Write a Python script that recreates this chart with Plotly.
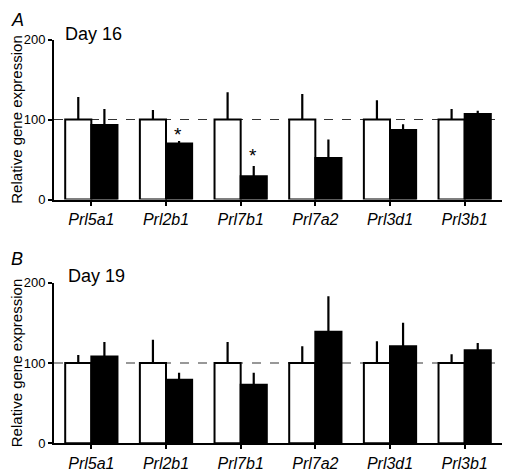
import plotly.graph_objects as go

genes = ["Prl5a1", "Prl2b1", "Prl7b1", "Prl7a2", "Prl3d1", "Prl3b1"]

d16_ctrl = [100, 100, 100, 100, 100, 100]
d16_ctrl_err = [28, 12, 34, 32, 24, 13]
d16_trt = [93, 70, 29, 52, 87, 107]
d16_trt_err = [20, 3, 13, 23, 7, 4]

d19_ctrl = [100, 100, 100, 100, 100, 100]
d19_ctrl_err = [10, 29, 26, 21, 27, 11]
d19_trt = [108, 79, 73, 139, 121, 116]
d19_trt_err = [18, 9, 15, 44, 29, 9]

stars_x = ["Prl2b1", "Prl7b1"]

FONT = "Liberation Sans, Arial, sans-serif"
W, H, OFF = 512, 462, 8

def px(X):
    return (X - OFF) / W

def py(Y):
    return 1 - (Y - OFF) / H

fig = go.Figure()

def add_panel(ctrl, ctrl_err, trt, trt_err, xa, ya):
    fig.add_trace(go.Bar(
        x=genes, y=ctrl, xaxis=xa, yaxis=ya, offsetgroup="c",
        marker=dict(color="white", line=dict(color="black", width=2)),
        error_y=dict(type="data", symmetric=False, array=ctrl_err,
                     arrayminus=[0]*len(ctrl), width=0, thickness=2.2, color="black"),
        showlegend=False))
    fig.add_trace(go.Bar(
        x=genes, y=trt, xaxis=xa, yaxis=ya, offsetgroup="t",
        marker=dict(color="black", line=dict(color="black", width=2)),
        error_y=dict(type="data", symmetric=False, array=trt_err,
                     arrayminus=[0]*len(trt), width=0, thickness=2.2, color="black"),
        showlegend=False))

add_panel(d16_ctrl, d16_ctrl_err, d16_trt, d16_trt_err, "x", "y")
add_panel(d19_ctrl, d19_ctrl_err, d19_trt, d19_trt_err, "x2", "y2")

xdom = [px(54), px(502)]
ax_common = dict(showline=True, linecolor="black", linewidth=2, ticks="outside",
                 ticklen=4, tickwidth=1.5, tickcolor="black", showgrid=False,
                 zeroline=False, automargin=False)
xax = dict(ax_common, domain=xdom, type="category", range=[-0.5, 5.5],
           tickfont=dict(family=FONT, size=16, color="black", style="italic"))
yax = dict(ax_common, range=[0, 200], tickvals=[0, 100, 200],
           tickfont=dict(family=FONT, size=13, color="black"),
           title=dict(text="Relative gene expression",
                      font=dict(family=FONT, size=15, color="black"), standoff=5))

fig.update_layout(
    width=W, height=H, margin=dict(l=0, r=0, t=0, b=0),
    paper_bgcolor="white", plot_bgcolor="white",
    barmode="group", bargap=0.3, bargroupgap=0,
    xaxis=dict(xax, anchor="y"),
    yaxis=dict(yax, anchor="x", domain=[py(199.5), py(39.5)]),
    xaxis2=dict(xax, anchor="y2"),
    yaxis2=dict(yax, anchor="x2", domain=[py(443.3), py(282.7)]),
)

for xr, yr in [("x", "y"), ("x2", "y2")]:
    fig.add_shape(type="line", xref=f"{xr} domain", yref=yr, x0=0, x1=1, y0=100, y1=100,
                  line=dict(color="#333", width=1.2, dash="dash"), layer="below")

anns = [
    dict(text="<i>A</i>", x=px(9), y=py(8), size=18),
    dict(text="<i>B</i>", x=px(9), y=py(247), size=18),
    dict(text="Day 16", x=px(63), y=py(22), size=18),
    dict(text="Day 19", x=px(66), y=py(264), size=18),
]
for a in anns:
    fig.add_annotation(text=a["text"], xref="paper", yref="paper", x=a["x"], y=a["y"],
                       xanchor="left", yanchor="top", showarrow=False,
                       font=dict(family=FONT, size=a["size"], color="black"))

star_y = [66, 39]
for g, sy in zip(stars_x, star_y):
    fig.add_annotation(text="*", xref="x", yref="y", x=genes.index(g) + 0.16, y=sy,
                       showarrow=False, yanchor="bottom",
                       font=dict(family=FONT, size=19, color="black"))

fig.write_html("out.html")
